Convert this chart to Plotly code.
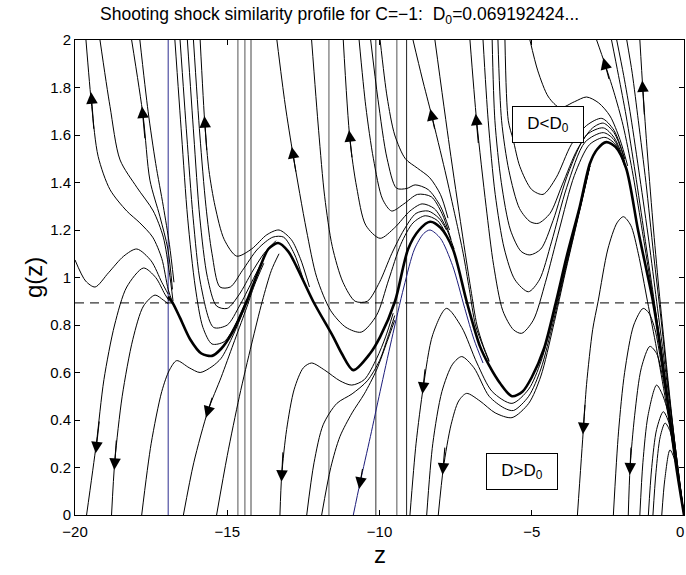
import plotly.graph_objects as go

# ---------------- data (z, g) ----------------
S = [(0.0, 0.0), (-0.25, 0.20), (-0.46, 0.40), (-0.75, 0.68), (-1.02, 0.90), (-1.18, 1.00),
     (-1.51, 1.20), (-1.9, 1.46), (-2.25, 1.55), (-2.55, 1.57), (-2.85, 1.54), (-3.09, 1.48),
     (-3.42, 1.30), (-3.85, 1.09), (-4.2, 0.90), (-4.6, 0.70), (-5.0, 0.58), (-5.3, 0.52),
     (-5.65, 0.50), (-6.04, 0.555), (-6.4, 0.63), (-6.7, 0.71), (-7.14, 0.90), (-7.59, 1.12),
     (-8.0, 1.21), (-8.34, 1.235), (-8.7, 1.20), (-9.06, 1.12), (-9.49, 0.90), (-9.98, 0.75),
     (-10.31, 0.68), (-10.86, 0.61), (-11.24, 0.68), (-11.52, 0.75), (-12.18, 0.90),
     (-12.72, 1.045), (-13.0, 1.11), (-13.33, 1.145), (-13.65, 1.12), (-13.92, 1.045),
     (-14.36, 0.90), (-14.85, 0.765), (-15.2, 0.70), (-15.5, 0.67), (-15.85, 0.68),
     (-16.22, 0.74), (-16.55, 0.83), (-16.78, 0.89), (-16.94, 0.92)]

A = [(-19.64, 2.0), (-19.45, 1.72), (-19.24, 1.51), (-18.85, 1.37), (-18.3, 1.28), (-17.87, 1.23),
     (-17.45, 1.17), (-17.15, 1.08), (-16.94, 0.95), (-16.78, 0.89)]
B = [(-19.18, 2.0), (-18.85, 1.72), (-18.52, 1.495), (-17.97, 1.38), (-17.43, 1.28), (-17.1, 1.17),
     (-16.9, 1.02), (-16.78, 0.9)]
C = [(-18.14, 2.0), (-17.76, 1.677), (-17.54, 1.41), (-17.21, 1.256), (-16.95, 1.12), (-16.8, 0.95)]
D = [(-17.87, 2.0), (-17.6, 1.7), (-17.35, 1.48), (-17.1, 1.3), (-16.9, 1.14), (-16.75, 0.98)]
E = [(-20.0, 1.074), (-19.65, 0.985), (-19.34, 0.96), (-18.9, 1.02), (-18.4, 1.09), (-17.97, 1.12),
     (-17.5, 1.07), (-17.15, 0.98), (-16.94, 0.93)]
P1 = [(-19.62, 0.0), (-19.3, 0.3), (-19.05, 0.57), (-18.7, 0.8), (-18.3, 0.96), (-17.75, 1.04),
      (-17.35, 1.0), (-17.05, 0.93), (-16.9, 0.9)]
P2 = [(-18.8, 0.0), (-18.69, 0.23), (-18.45, 0.5), (-18.1, 0.74), (-17.75, 0.88), (-17.37, 0.926),
      (-17.1, 0.905), (-16.94, 0.89)]
P3 = [(-17.81, 0.0), (-17.5, 0.3), (-17.15, 0.52), (-16.9, 0.61), (-16.66, 0.65), (-16.25, 0.62),
      (-15.89, 0.60), (-15.5, 0.625), (-15.2, 0.66), (-14.85, 0.745), (-14.4, 0.88), (-14.1, 0.98)]
P4 = [(-16.44, 0.0), (-16.1, 0.22), (-15.63, 0.44), (-15.2, 0.58), (-14.8, 0.72), (-14.4, 0.86),
      (-14.1, 0.97), (-13.8, 1.06)]
P5 = [(-15.35, 0.0), (-15.0, 0.25), (-14.6, 0.5), (-14.2, 0.72), (-13.85, 0.9), (-13.55, 1.03),
      (-13.3, 1.1)]
P6 = [(-13.27, 0.0), (-13.21, 0.17), (-13.05, 0.36), (-12.8, 0.53), (-12.5, 0.62), (-12.23, 0.64),
      (-11.8, 0.61), (-11.3, 0.565), (-10.91, 0.547), (-10.5, 0.57), (-10.09, 0.66), (-9.8, 0.75),
      (-9.55, 0.85)]
P7 = [(-12.39, 0.0), (-12.15, 0.22), (-11.85, 0.38), (-11.4, 0.47), (-10.9, 0.51), (-10.4, 0.565),
      (-10.0, 0.65), (-9.7, 0.76), (-9.5, 0.84)]
P8 = [(-11.9, 0.0), (-11.6, 0.2), (-11.3, 0.33), (-10.9, 0.43), (-10.5, 0.51), (-10.1, 0.61),
      (-9.75, 0.73), (-9.5, 0.82)]
BLUE = [(-10.86, 0.0), (-10.64, 0.135), (-10.3, 0.33), (-9.98, 0.52), (-9.6, 0.74), (-9.2, 0.96),
        (-8.85, 1.12), (-8.55, 1.185), (-8.34, 1.2), (-8.0, 1.165), (-7.6, 1.05), (-7.2, 0.87),
        (-6.9, 0.74), (-6.6, 0.64)]
Q1 = [(-9.0, 0.0), (-8.8, 0.3), (-8.56, 0.54), (-8.25, 0.76), (-7.8, 0.87), (-7.3, 0.79),
      (-6.8, 0.64), (-6.3, 0.52), (-5.65, 0.47), (-5.1, 0.53), (-4.7, 0.645), (-4.3, 0.83),
      (-3.9, 1.04), (-3.6, 1.2), (-3.3, 1.36), (-3.09, 1.47)]
Q2 = [(-8.45, 0.0), (-8.25, 0.3), (-7.95, 0.52), (-7.6, 0.635), (-7.3, 0.667), (-6.9, 0.62),
      (-6.4, 0.5), (-5.9, 0.45), (-5.6, 0.44), (-5.1, 0.5), (-4.7, 0.615), (-4.3, 0.81),
      (-3.9, 1.03), (-3.6, 1.19), (-3.3, 1.355), (-3.09, 1.47)]
Q3 = [(-8.07, 0.0), (-7.9, 0.2), (-7.65, 0.38), (-7.4, 0.48), (-7.14, 0.512), (-6.7, 0.48),
      (-6.2, 0.43), (-5.65, 0.41), (-5.1, 0.47), (-4.7, 0.585), (-4.3, 0.79), (-3.9, 1.02),
      (-3.6, 1.185), (-3.3, 1.35), (-3.09, 1.47)]
U1 = [(-5.88, 2.0), (-5.77, 1.66), (-5.61, 1.58), (-5.39, 1.467), (-5.0, 1.37), (-4.63, 1.35),
      (-4.2, 1.42), (-3.7, 1.56), (-3.2, 1.64), (-2.7, 1.67), (-2.3, 1.62), (-1.95, 1.5)]
U2 = [(-6.11, 2.0), (-5.99, 1.66), (-5.75, 1.45), (-5.4, 1.29), (-5.05, 1.235), (-4.79, 1.228),
      (-4.4, 1.27), (-4.0, 1.39), (-3.5, 1.54), (-3.0, 1.63), (-2.65, 1.65), (-2.3, 1.61),
      (-1.95, 1.5)]
U3 = [(-6.3, 2.0), (-6.21, 1.66), (-6.0, 1.4), (-5.7, 1.2), (-5.35, 1.11), (-5.06, 1.095),
      (-4.7, 1.12), (-4.3, 1.24), (-3.8, 1.44), (-3.2, 1.6), (-2.65, 1.63), (-2.3, 1.59),
      (-1.95, 1.49)]
U4 = [(-6.6, 2.0), (-6.43, 1.66), (-6.2, 1.35), (-5.9, 1.12), (-5.55, 0.99), (-5.11, 0.94),
      (-4.75, 0.99), (-4.35, 1.15), (-3.85, 1.38), (-3.25, 1.57), (-2.65, 1.61), (-2.3, 1.58),
      (-1.95, 1.48)]
U5 = [(-7.03, 2.0), (-6.81, 1.66), (-6.5, 1.3), (-6.25, 1.05), (-5.95, 0.86), (-5.6, 0.78),
      (-5.33, 0.765), (-4.95, 0.82), (-4.55, 0.98), (-4.1, 1.2), (-3.6, 1.43), (-3.1, 1.56),
      (-2.6, 1.59), (-2.25, 1.56), (-1.95, 1.47)]
UBOX = [(-5.06, 2.0), (-4.8, 1.87), (-4.45, 1.76), (-4.07, 1.715), (-3.6, 1.74), (-3.2, 1.76),
        (-2.8, 1.735), (-2.43, 1.68), (-2.1, 1.58), (-1.85, 1.47)]
L1 = [(-8.9, 2.0), (-8.6, 1.84), (-8.29, 1.684), (-7.85, 1.45), (-7.5, 1.25), (-7.25, 1.1),
      (-7.05, 0.95), (-6.85, 0.8), (-6.6, 0.71), (-6.4, 0.645)]
L2 = [(-8.18, 2.0), (-7.7, 1.55), (-7.3, 1.2), (-7.0, 0.95), (-6.8, 0.8), (-6.6, 0.715),
      (-6.4, 0.65)]
K1 = [(-10.29, 2.0), (-10.05, 1.75), (-9.75, 1.5), (-9.44, 1.376), (-9.1, 1.375), (-8.83, 1.39),
      (-8.4, 1.37), (-8.0, 1.3), (-7.7, 1.2)]
K2 = [(-10.67, 2.0), (-10.45, 1.72), (-10.2, 1.5), (-9.9, 1.33), (-9.6, 1.28), (-9.2, 1.31),
      (-8.75, 1.35), (-8.3, 1.34), (-7.95, 1.27), (-7.65, 1.16)]
K3 = [(-11.19, 2.0), (-10.97, 1.58), (-10.75, 1.38), (-10.45, 1.22), (-9.98, 1.165), (-9.5, 1.21),
      (-9.0, 1.28), (-8.6, 1.31), (-8.2, 1.29), (-7.85, 1.22), (-7.55, 1.12)]
K4 = [(-9.98, 2.0), (-9.75, 1.76), (-9.5, 1.6), (-9.15, 1.5), (-8.75, 1.46), (-8.35, 1.42),
      (-8.0, 1.35), (-7.75, 1.25)]
U6 = [(-13.37, 2.0), (-13.1, 1.73), (-12.83, 1.51), (-12.4, 1.2), (-12.06, 1.0), (-11.6, 0.86),
      (-11.1, 0.79), (-10.6, 0.77), (-10.1, 0.84), (-9.7, 0.99), (-9.3, 1.14), (-8.9, 1.23),
      (-8.5, 1.26), (-8.1, 1.24), (-7.8, 1.18)]
U7 = [(-12.23, 2.0), (-12.0, 1.62), (-11.8, 1.34), (-11.55, 1.13), (-11.2, 0.98), (-10.8, 0.9),
      (-10.4, 0.9), (-10.0, 0.98), (-9.6, 1.1), (-9.2, 1.2), (-8.8, 1.27), (-8.4, 1.28),
      (-8.05, 1.25), (-7.8, 1.2)]
V1 = [(-15.89, 2.0), (-15.73, 1.635), (-15.6, 1.45), (-15.4, 1.3), (-15.1, 1.16), (-14.69, 1.09),
      (-14.2, 1.12), (-13.7, 1.18), (-13.3, 1.2), (-12.9, 1.16), (-12.6, 1.08), (-12.3, 0.96)]
V2 = [(-16.11, 2.0), (-15.9, 1.6), (-15.7, 1.3), (-15.5, 1.1), (-15.24, 0.96), (-14.9, 0.96),
      (-14.5, 1.03), (-14.0, 1.12), (-13.5, 1.17), (-13.15, 1.17), (-12.8, 1.1), (-12.5, 0.99)]
V3 = [(-16.31, 2.0), (-16.1, 1.6), (-15.9, 1.25), (-15.65, 1.0), (-15.35, 0.88), (-15.0, 0.87),
      (-14.6, 0.93), (-14.2, 1.02), (-13.8, 1.1), (-13.4, 1.155)]
V4 = [(-16.55, 2.0), (-16.33, 1.6), (-16.12, 1.25), (-15.87, 0.97), (-15.45, 0.79), (-15.0, 0.8),
      (-14.6, 0.88), (-14.2, 0.98), (-13.8, 1.08)]
V5 = [(-16.72, 2.0), (-16.5, 1.6), (-16.3, 1.25), (-16.05, 0.96), (-15.8, 0.79), (-15.5, 0.72),
      (-15.1, 0.73), (-14.7, 0.81), (-14.35, 0.91)]
T1 = [(-2.87, 2.0), (-2.6, 1.9), (-2.3, 1.78), (-2.0, 1.64), (-1.7, 1.45), (-1.4, 1.22),
      (-1.1, 0.98), (-0.8, 0.74), (-0.5, 0.45), (-0.25, 0.22), (0.0, 0.0)]
T1B = [(-2.38, 2.0), (-2.15, 1.85), (-1.9, 1.68), (-1.6, 1.44), (-1.3, 1.18), (-1.0, 0.92),
       (-0.7, 0.65), (-0.35, 0.32), (0.0, 0.0)]
T2 = [(-2.21, 2.0), (-1.98, 1.85), (-1.75, 1.68), (-1.45, 1.42), (-1.15, 1.15), (-0.9, 0.9),
      (-0.6, 0.6), (-0.3, 0.3), (0.0, 0.0)]
T2B = [(-1.88, 2.0), (-1.7, 1.86), (-1.5, 1.66), (-1.25, 1.4), (-1.0, 1.1), (-0.75, 0.82),
       (-0.5, 0.52), (-0.25, 0.25), (0.0, 0.0)]
T3 = [(-1.45, 2.0), (-1.35, 1.79), (-1.2, 1.52), (-1.0, 1.2), (-0.8, 0.92), (-0.55, 0.6),
      (-0.3, 0.3), (0.0, 0.0)]
H1 = [(-3.5, 0.0), (-3.3, 0.37), (-3.2, 0.55), (-3.0, 0.78), (-2.82, 0.9), (-2.5, 1.12),
      (-2.2, 1.23), (-1.99, 1.256), (-1.75, 1.22), (-1.5, 1.1), (-1.2, 0.9), (-0.9, 0.7),
      (-0.6, 0.48), (-0.3, 0.24), (0.0, 0.0)]
H2 = [(-2.32, 0.0), (-2.15, 0.35), (-1.95, 0.6), (-1.65, 0.8), (-1.34, 0.87), (-1.15, 0.85),
      (-0.95, 0.78), (-0.75, 0.64), (-0.5, 0.44), (-0.25, 0.22), (0.0, 0.0)]
H3 = [(-1.83, 0.0), (-1.77, 0.2), (-1.62, 0.42), (-1.4, 0.62), (-1.12, 0.71), (-0.9, 0.68),
      (-0.7, 0.58), (-0.45, 0.4), (-0.22, 0.2), (0.0, 0.0)]
H4 = [(-1.45, 0.0), (-1.35, 0.22), (-1.18, 0.42), (-0.9, 0.547), (-0.72, 0.51), (-0.5, 0.42),
      (-0.25, 0.22), (0.0, 0.0)]
H5 = [(-1.17, 0.0), (-1.06, 0.2), (-0.9, 0.36), (-0.68, 0.435), (-0.5, 0.39), (-0.25, 0.21),
      (0.0, 0.0)]
H6 = [(-1.02, 0.0), (-0.92, 0.18), (-0.78, 0.33), (-0.62, 0.387), (-0.45, 0.35), (-0.22, 0.19),
      (0.0, 0.0)]
H7 = [(-0.73, 0.0), (-0.63, 0.15), (-0.46, 0.274), (-0.3, 0.23), (-0.15, 0.12), (0.0, 0.0)]

thin_curves = [A, B, C, D, E, P1, P2, P3, P4, P5, P6, P7, P8, Q1, Q2, Q3, U1, U2, U3, U4, U5,
               UBOX, L1, L2, K1, K2, K3, K4, U6, U7, V1, V2, V3, V4, V5, T1, T1B, T2, T2B, T3,
               H1, H2, H3, H4, H5, H6, H7]

vline_z = [-16.94, -14.65, -14.42, -14.22, -11.66, -10.12, -9.43, -9.11]
vline_color = ['#2b2b8f', '#555555', '#555555', '#444444', '#555555', '#333333', '#555555', '#222222']

dash_level = 0.893

# arrows: (tip_z, tip_g, tail_z, tail_g)
arrows = [(-19.47, 1.78, -19.38, 1.62), (-17.8, 1.72, -17.7, 1.58), (-15.75, 1.68, -15.67, 1.53),
          (-12.88, 1.55, -12.74, 1.44), (-11.0, 1.62, -10.9, 1.5), (-8.33, 1.71, -8.18, 1.62),
          (-6.84, 1.69, -6.75, 1.56), (-2.65, 1.925, -2.45, 1.83), (-1.37, 1.83, -1.3, 1.68),
          (-19.32, 0.26, -19.2, 0.4), (-18.71, 0.19, -18.64, 0.32), (-15.7, 0.41, -15.48, 0.5),
          (-13.22, 0.14, -13.17, 0.27), (-10.67, 0.11, -10.55, 0.2), (-8.59, 0.51, -8.5, 0.62),
          (-7.93, 0.17, -7.85, 0.29), (-3.32, 0.34, -3.25, 0.47), (-1.78, 0.17, -1.74, 0.29)]

x_ticks = [-20, -15, -10, -5, 0]
x_ticktext = ['\u221220', '\u221215', '\u221210', '\u22125', '']
x_last_label = '0'
y_ticks = [0, 0.2, 0.4, 0.6, 0.8, 1.0, 1.2, 1.4, 1.6, 1.8, 2.0]
y_ticktext = ['0', '0.2', '0.4', '0.6', '0.8', '1', '1.2', '1.4', '1.6', '1.8', '2']

title_text = 'Shooting shock similarity profile for C=\u22121:\u00a0\u00a0D<sub>0</sub>=0.069192424...'
box_low = ('D&lt;D<sub>0</sub>', -4.47, 1.646)
box_high = ('D&gt;D<sub>0</sub>', -5.32, 0.184)

FONT = 'Liberation Sans, Arial, Helvetica, sans-serif'

# ---------------- figure ----------------
fig = go.Figure()

for vz, vc in zip(vline_z, vline_color):
    fig.add_trace(go.Scatter(x=[vz, vz], y=[0, 2], mode='lines',
                             line=dict(color=vc, width=1), hoverinfo='skip', showlegend=False))

fig.add_trace(go.Scatter(x=[-20, 0], y=[dash_level, dash_level], mode='lines',
                         line=dict(color='black', width=1, dash='9px,6px'),
                         hoverinfo='skip', showlegend=False))

for cv in thin_curves:
    zs = [p[0] for p in cv]
    gs = [p[1] for p in cv]
    fig.add_trace(go.Scatter(x=zs, y=gs, mode='lines', line_shape='spline',
                             line=dict(color='black', width=1, smoothing=0.8),
                             hoverinfo='skip', showlegend=False))

fig.add_trace(go.Scatter(x=[p[0] for p in BLUE], y=[p[1] for p in BLUE], mode='lines',
                         line_shape='spline', line=dict(color='#1c1c7a', width=1, smoothing=0.8),
                         hoverinfo='skip', showlegend=False))

fig.add_trace(go.Scatter(x=[p[0] for p in S], y=[p[1] for p in S], mode='lines',
                         line_shape='spline', line=dict(color='black', width=2.6, smoothing=0.8),
                         hoverinfo='skip', showlegend=False))

annotations = []
for tz, tg, az, ag in arrows:
    annotations.append(dict(x=tz, y=tg, ax=az, ay=ag, xref='x', yref='y', axref='x', ayref='y',
                            text='', showarrow=True, arrowhead=2, arrowsize=2.1,
                            arrowwidth=1.1, arrowcolor='black', standoff=0, startstandoff=0))

for txt, bz, bg in (box_low, box_high):
    annotations.append(dict(x=bz, y=bg, xref='x', yref='y', text=txt, showarrow=False,
                            font=dict(family=FONT, size=17, color='black'),
                            bgcolor='white', bordercolor='black', borderwidth=1,
                            width=68, height=33, align='center', valign='middle'))

annotations.append(dict(x=0.435, y=1.0526, xref='paper', yref='paper', text=title_text,
                        showarrow=False, xanchor='center', yanchor='middle',
                        font=dict(family=FONT, size=17.5, color='black')))
annotations.append(dict(x=-0.069, y=0.501, xref='paper', yref='paper', text='g(z)',
                        showarrow=False, textangle=-90, xanchor='center', yanchor='middle',
                        font=dict(family=FONT, size=24, color='black')))
annotations.append(dict(x=0.5008, y=-0.084, xref='paper', yref='paper', text='z',
                        showarrow=False, xanchor='center', yanchor='middle',
                        font=dict(family=FONT, size=24, color='black')))
annotations.append(dict(x=1.0, y=0, xref='paper', yref='paper', text=x_last_label,
                        showarrow=False, xanchor='center', yanchor='top', xshift=-4, yshift=-6,
                        font=dict(family=FONT, size=15, color='black')))

axis_common = dict(showgrid=False, zeroline=False, showline=True, linecolor='black', linewidth=1,
                   mirror='ticks', ticks='inside', ticklen=5, tickcolor='black',
                   automargin=False,
                   tickfont=dict(family=FONT, size=15, color='black'))

fig.update_layout(
    width=686, height=575,
    margin=dict(l=75, r=2, t=40, b=60, autoexpand=False),
    paper_bgcolor='white', plot_bgcolor='white',
    xaxis=dict(range=[-20, 0], tickvals=x_ticks, ticktext=x_ticktext, ticklabelstandoff=3,
               **axis_common),
    yaxis=dict(range=[0, 2], tickvals=y_ticks, ticktext=y_ticktext, **axis_common),
    annotations=annotations,
    showlegend=False,
)

fig.write_html('out.html', config={'displayModeBar': False, 'responsive': False},
               post_script="document.body.style.margin='0px';document.body.style.overflow='hidden';")
